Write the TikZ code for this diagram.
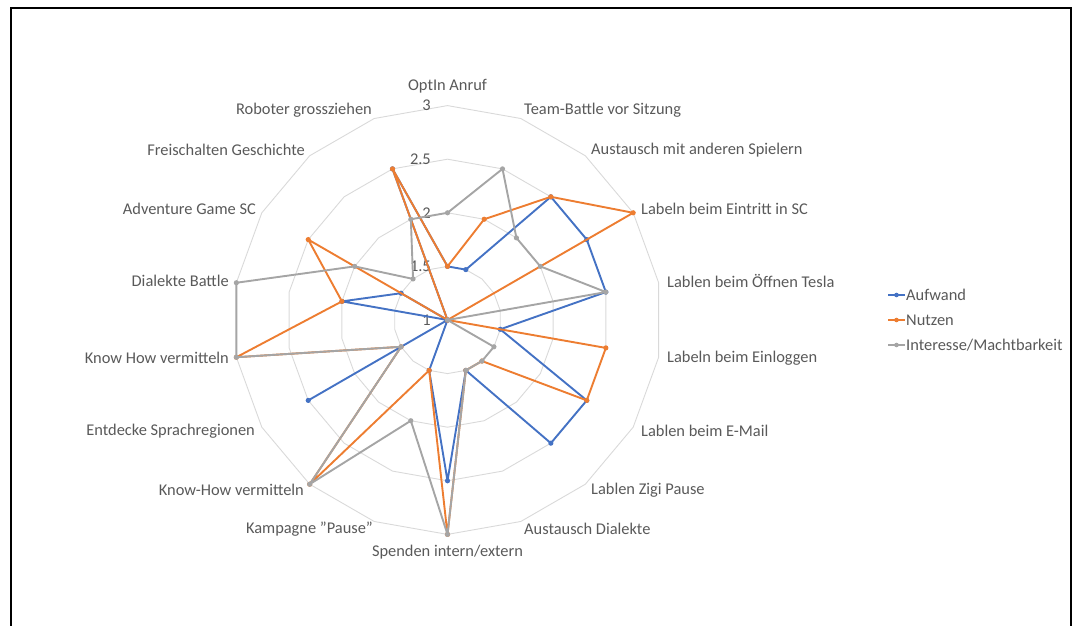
\documentclass[tikz,border=0pt]{standalone}
\usepackage{fontspec}
\setmainfont{Carlito}
\usetikzlibrary{calc}
\definecolor{aufw}{HTML}{4472C4}
\definecolor{nutz}{HTML}{ED7D31}
\definecolor{inter}{HTML}{A5A5A5}
\definecolor{txt}{HTML}{595959}
\definecolor{gridc}{HTML}{D9D9D9}
\tikzset{
  ring/.style={draw=gridc, line width=0.9pt},
  serie/.style={line width=1.9pt, line join=round},
  catlabel/.style={text=txt, inner sep=0pt, font=\fontsize{16.4}{18}\selectfont},
  ticklabel/.style={text=txt, inner sep=0pt, anchor=east, font=\fontsize{16.4}{18}\selectfont},
}
% one data series: colour, coordinate prefix, 18 values
\newcommand\radarseries[3]{%
  \foreach \v [count=\k from 0] in {#3}
    \coordinate (#2\k) at ({90-20*\k}:{(\v-1)*107.2});
  \draw[serie, #1] (#20) \foreach \k in {1,...,17} {-- (#2\k)} -- cycle;
  \foreach \k in {0,...,17} \fill[#1] (#2\k) circle (2.6);
}
\begin{document}
\begin{tikzpicture}[x=1pt,y=1pt]
\useasboundingbox (0,0) rectangle (1076,626);
% chart frame
\draw[line width=2pt, black] (11,0) -- (11,617.5) -- (1071,617.5) -- (1071,0);

\begin{scope}[shift={(447.5,306)}]
  % grid rings at 1.5, 2, 2.5, 3
  \foreach \r in {1,2,3,4}
    \draw[ring] (90:\r*53.6) \foreach \k in {1,...,17} {-- ({90-20*\k}:\r*53.6)} -- cycle;
  % value labels
  \node[ticklabel] (t1)  at (-16.5,0)     {1};
  \node[ticklabel] (t15) at (-16.5,53.6)  {1.5};
  \node[ticklabel] (t2)  at (-16.5,107.2) {2};
  \node[ticklabel] (t25) at (-16.5,160.8) {2.5};
  \node[ticklabel] (t3)  at (-16.5,214.4) {3};
  % data
  \radarseries{aufw}{A}{1.5,1.5,2.5,2.5,2.5,1.5,2.5,2.5,1.5,2.5,1.5,1,2.5,1,2,1.5,1,2.5}
  \radarseries{nutz}{N}{1.5,2,2.5,3,1,2.5,2.5,1.5,1.5,3,1.5,3,1.5,3,2,2.5,1,2.5}
  \radarseries{inter}{I}{2,2.5,2,2,2.5,1,1.5,1.5,1.5,3,2,3,1.5,3,3,2,1.5,2}
\end{scope}

% category labels
\node[catlabel, anchor=center] (c0)  at (447.5,540) {OptIn Anruf};
\node[catlabel, anchor=west]   (c1)  at (524,516) {Team-Battle vor Sitzung};
\node[catlabel, anchor=west]   (c2)  at (591,476) {Austausch mit anderen Spielern};
\node[catlabel, anchor=west]   (c3)  at (641,417) {Labeln beim Eintritt in SC};
\node[catlabel, anchor=west]   (c4)  at (667,345) {Lablen beim Öffnen Tesla};
\node[catlabel, anchor=west]   (c5)  at (667,268) {Labeln beim Einloggen};
\node[catlabel, anchor=west]   (c6)  at (641,195) {Lablen beim E-Mail};
\node[catlabel, anchor=west]   (c7)  at (591,136) {Lablen Zigi Pause};
\node[catlabel, anchor=west]   (c8)  at (524,97)  {Austausch Dialekte};
\node[catlabel, anchor=center] (c9)  at (447.5,74) {Spenden intern/extern};
\node[catlabel, anchor=east]   (c10) at (373,97)  {Kampagne \char"22 Pause\char"22};
\node[catlabel, anchor=east]   (c11) at (304,136) {Know-How vermitteln};
\node[catlabel, anchor=east]   (c12) at (255,195) {Entdecke Sprachregionen};
\node[catlabel, anchor=east]   (c13) at (229,268) {Know How vermitteln};
\node[catlabel, anchor=east]   (c14) at (229,345) {Dialekte Battle};
\node[catlabel, anchor=east]   (c15) at (256,417) {Adventure Game SC};
\node[catlabel, anchor=east]   (c16) at (305,476) {Freischalten Geschichte};
\node[catlabel, anchor=east]   (c17) at (372,516) {Roboter grossziehen};

% legend
\foreach \c/\t/\y [count=\i] in {aufw/Aufwand/331, nutz/Nutzen/306, inter/Interesse\slash Machtbarkeit/281} {
  \coordinate (la\i) at (888,\y);
  \coordinate (lb\i) at (905,\y);
  \draw[\c, line width=1.9pt] (la\i) -- (lb\i);
  \fill[\c] ($(la\i)!0.5!(lb\i)$) circle (2.3);
  \node[catlabel, anchor=west] (lt\i) at (906,\y) {\t};
}
\end{tikzpicture}
\end{document}
